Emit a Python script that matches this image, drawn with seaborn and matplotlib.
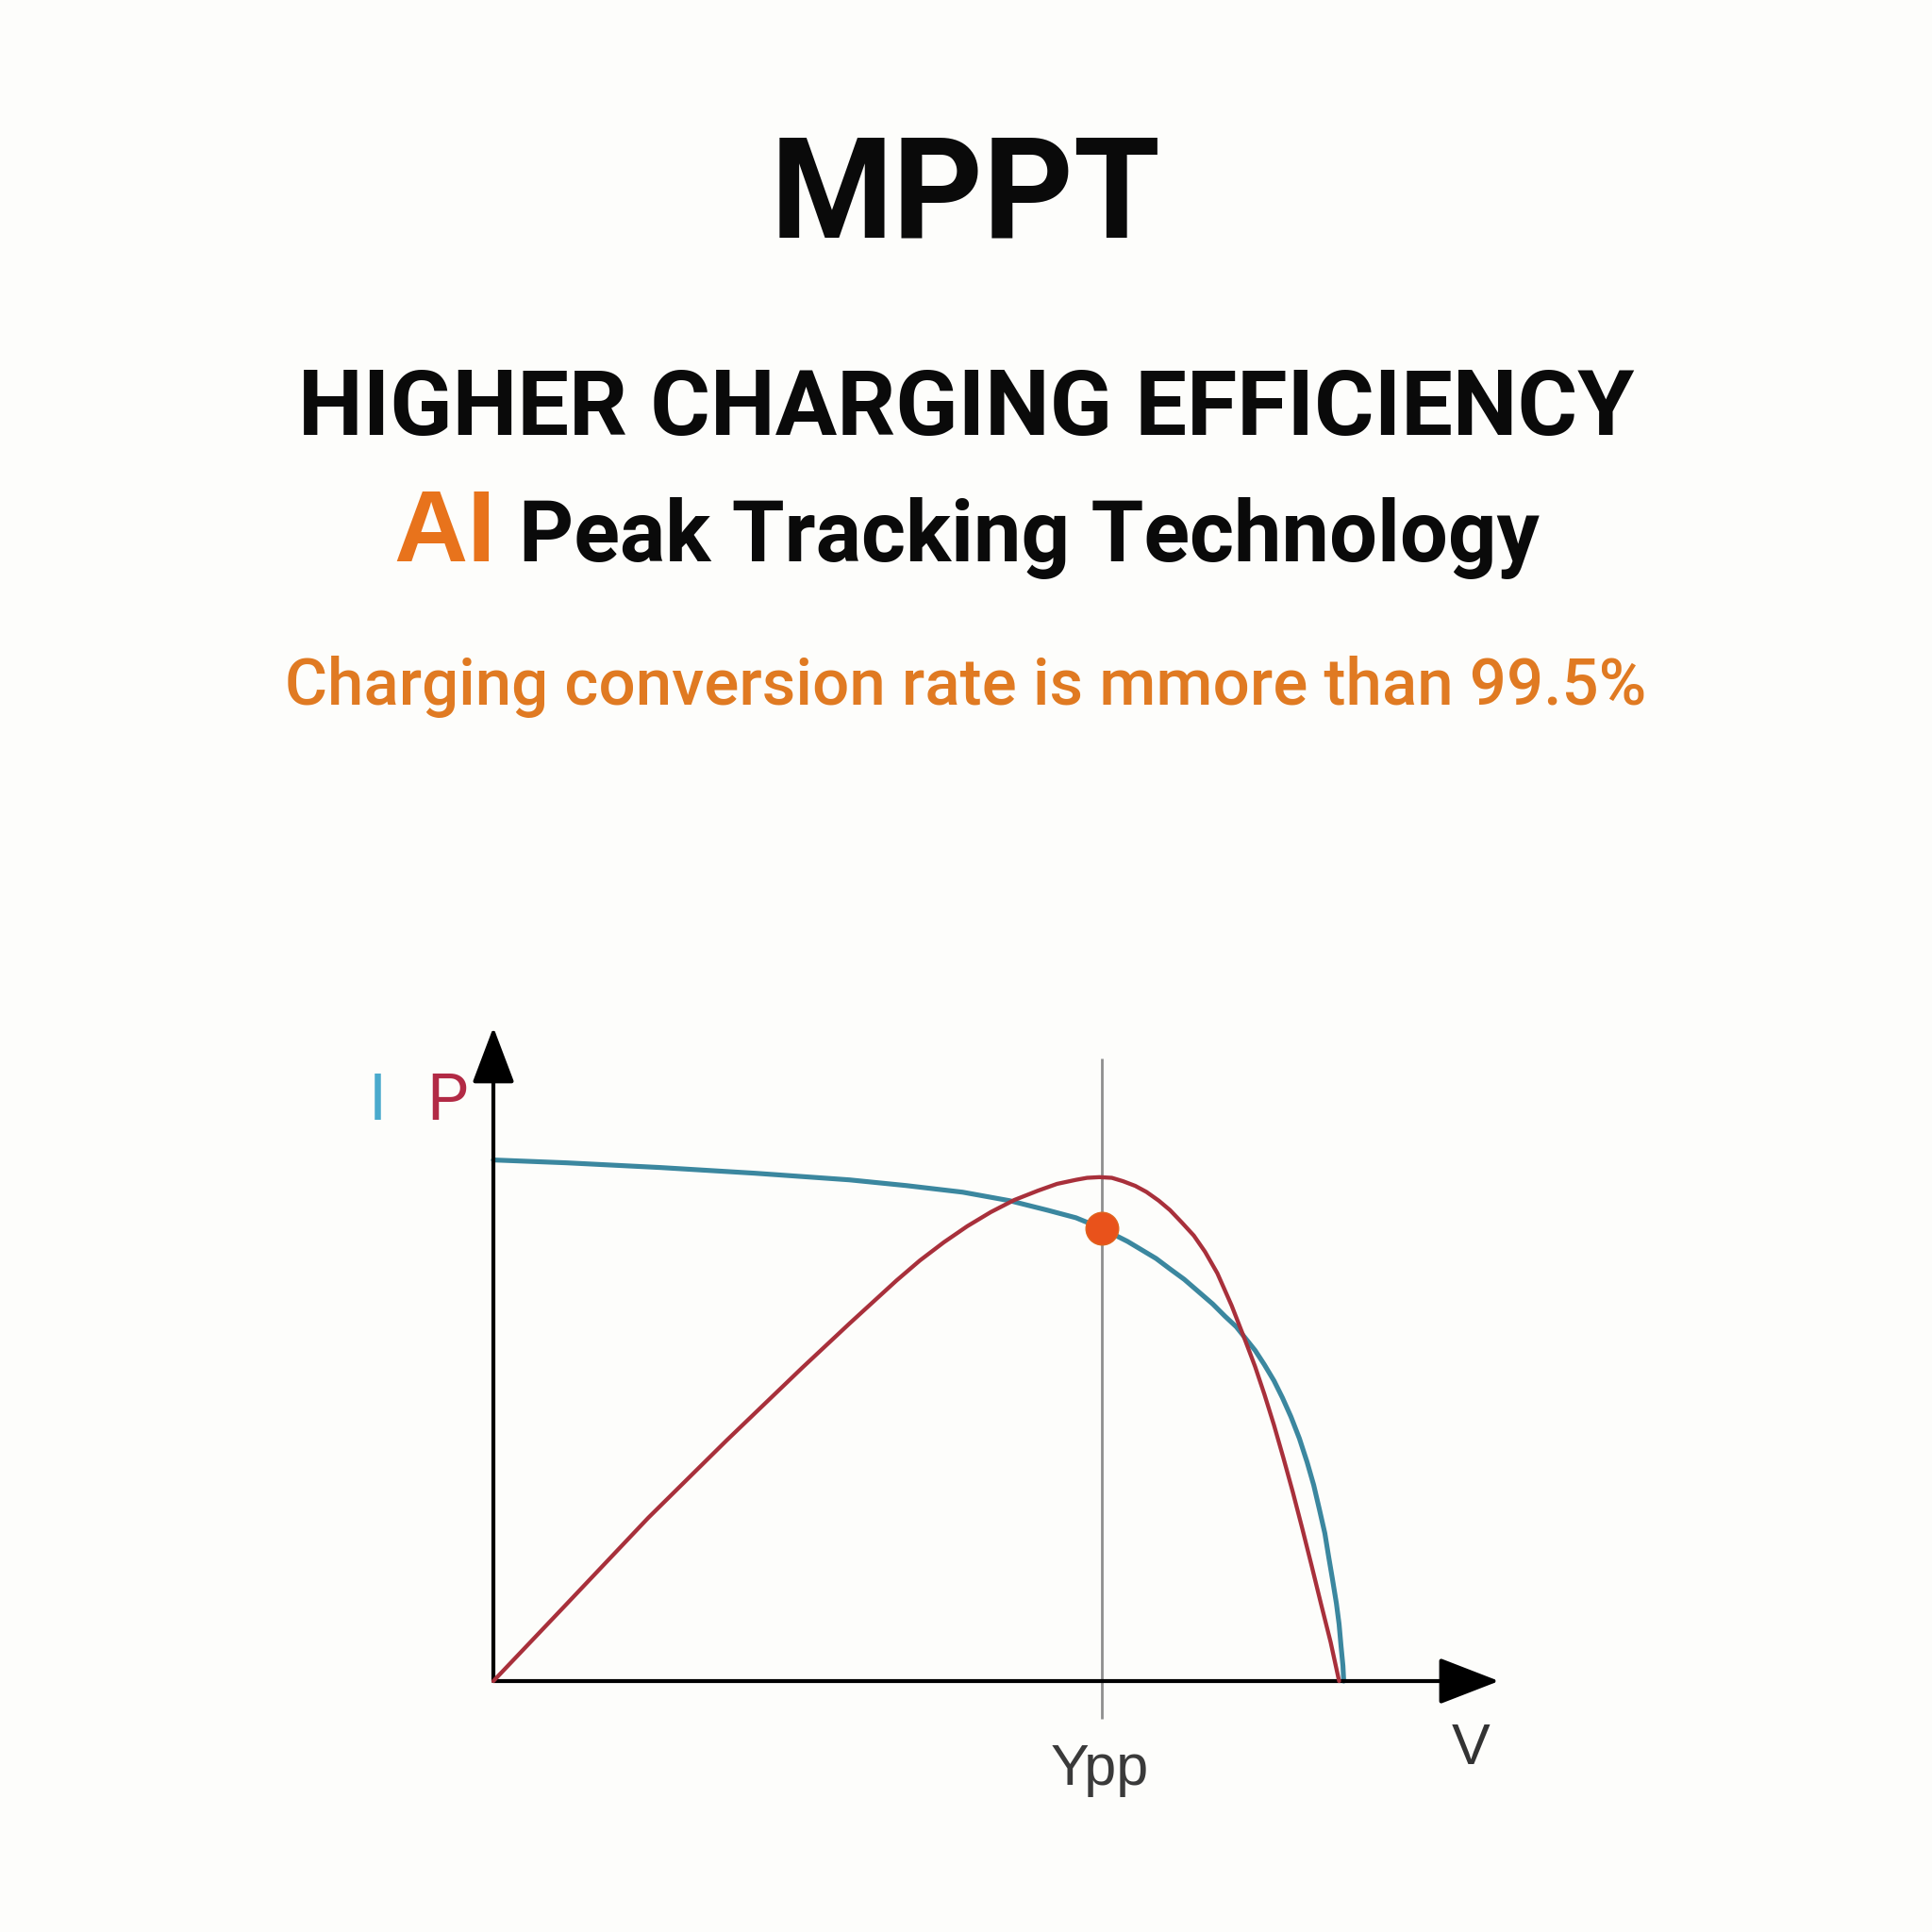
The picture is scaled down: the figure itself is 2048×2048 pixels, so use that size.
import pandas as pd
import matplotlib
matplotlib.use("Agg")
import matplotlib.pyplot as plt
import seaborn as sns
from matplotlib import font_manager

# Values (no ticks, so units are illustrative)
# I-V curve of the panel: voltage (V) and current (A)
iv_voltage = [0.00, 1.89, 4.34, 6.79, 9.24, 10.71, 12.18, 13.40, 13.89, 14.38,
              15.12, 15.78, 16.46, 16.83, 17.20, 17.56, 17.93, 18.30, 18.67,
              18.99, 19.28, 19.77, 20.01, 20.26, 20.48, 20.70, 20.92, 21.12,
              21.29, 21.44, 21.58, 21.68, 21.78, 21.88, 21.95, 22.00, 22.05,
              22.07]
iv_current = [5.50, 5.47, 5.42, 5.36, 5.29, 5.23, 5.16, 5.07, 5.02, 4.97,
              4.89, 4.78, 4.64, 4.55, 4.46, 4.35, 4.24, 4.11, 3.98,
              3.85, 3.74, 3.49, 3.34, 3.17, 2.99, 2.79, 2.56, 2.31,
              2.07, 1.81, 1.56, 1.31, 1.07, 0.82, 0.60, 0.37, 0.16,
              0.00]

# P-V curve of the panel: voltage (V) and power (W)
pv_voltage = [0.00, 1.89, 4.02, 6.05, 8.01, 9.24, 9.85, 10.46, 11.07, 11.69,
              12.30, 12.91, 13.52, 14.14, 14.63, 15.12, 15.41, 15.73, 16.05,
              16.34, 16.66, 16.95, 17.27, 17.56, 17.86, 18.18, 18.47, 18.79,
              19.16, 19.52, 19.77, 20.01, 20.26, 20.50, 20.75, 20.99, 21.24,
              21.48, 21.73, 21.95]
pv_power = [0.0, 11.4, 24.3, 35.8, 46.6, 53.2, 56.4, 59.6, 62.6, 65.3,
            67.7, 69.8, 71.6, 73.0, 74.0, 74.6, 74.9, 75.0, 74.9,
            74.4, 73.7, 72.8, 71.5, 70.1, 68.3, 66.3, 63.9, 60.7,
            55.9, 50.6, 46.8, 42.7, 38.1, 33.3, 28.1, 22.8, 17.1,
            11.5, 5.8, 0.0]

# Maximum power point
mpp_voltage = 15.78
mpp_current = 4.78

# Axis extents (arrow tips) and the marker line at Vmp
v_axis_max = 26.1
i_axis_max = 6.9
p_axis_max = 97.3
mpp_line_bottom = -0.40
mpp_line_top = 6.57

# Texts
title = "MPPT"
headline = "HIGHER CHARGING EFFICIENCY"
ai_word = "AI"
tagline = "Peak Tracking Technology"
subtitle = "Charging conversion rate is mmore than 99.5%"
label_i = "I"
label_p = "P"
label_vmp = "Ypp"
label_v = "V"

BG = "#fdfdfb"
BLUE = "#3b879f"
RED = "#a8303b"
ORANGE = "#e8731c"


def pick_font(candidates, fallback):
    # first installed family from the list
    names = {f.name for f in font_manager.fontManager.ttflist}
    for name in candidates:
        if name in names:
            return name
    return fallback


def draw_headings(fig, head, wide):
    fig.text(0.5, 1 - 252 / 2048, title, ha="center", va="baseline",
             fontsize=107, fontweight="bold", family=head, color="#0a0a0a")
    fig.text(0.5, 1 - 461 / 2048, headline, ha="center", va="baseline",
             fontsize=70, fontweight="bold", family=head, color="#0a0a0a")
    fig.text(526 / 2048, 1 - 595 / 2048, ai_word, ha="right", va="baseline",
             fontsize=78, fontweight="bold", family=wide, color=ORANGE)
    fig.text(550 / 2048, 1 - 595 / 2048, tagline, ha="left", va="baseline",
             fontsize=65, fontweight="bold", family=head, color="#0a0a0a")
    fig.text(0.5, 1 - 747 / 2048, subtitle, ha="center", va="baseline",
             fontsize=49.7, fontweight=500, family=head, color="#e07a22")


def draw_chart(fig, head, wide):
    ax = fig.add_axes([523 / 2048, 1 - 1782 / 2048,
                       (1589 - 523) / 2048, (1782 - 1089) / 2048])
    ax.set_xlim(0, v_axis_max)
    ax.set_ylim(0, i_axis_max)
    ax.set_axis_off()

    ax2 = ax.twinx()
    ax2.set_ylim(0, p_axis_max)
    ax2.set_axis_off()

    # vertical marker at the maximum power voltage
    ax.vlines(mpp_voltage, mpp_line_bottom, mpp_line_top, color="#8e8e8e",
              lw=2.0, clip_on=False, zorder=1)

    iv = pd.DataFrame({"V": iv_voltage, "I": iv_current})
    pv = pd.DataFrame({"V": pv_voltage, "P": pv_power})
    sns.lineplot(data=iv, x="V", y="I", sort=False, estimator=None, color=BLUE,
                 linewidth=3.7, ax=ax, zorder=3)
    sns.lineplot(data=pv, x="V", y="P", sort=False, estimator=None, color=RED,
                 linewidth=3.1, ax=ax2, zorder=3)
    for line in ax.lines + ax2.lines:
        line.set_solid_joinstyle("round")
        line.set_solid_capstyle("round")
        line.set_clip_on(False)

    ax2.scatter([mpp_voltage], [mpp_current * p_axis_max / i_axis_max], s=620,
                color="#e9521b", edgecolor="#e0641e", linewidth=1.0, zorder=5,
                clip_on=False)

    # axis arrows
    ax.annotate("", xy=(v_axis_max, 0), xytext=(0, 0), annotation_clip=False,
                arrowprops=dict(arrowstyle="-|>,head_length=0.40,head_width=0.155",
                                mutation_scale=100, lw=3.0, color="black",
                                shrinkA=0, shrinkB=0))
    ax.annotate("", xy=(0, i_axis_max), xytext=(0, 0), annotation_clip=False,
                arrowprops=dict(arrowstyle="-|>,head_length=0.37,head_width=0.14",
                                mutation_scale=100, lw=3.0, color="black",
                                shrinkA=0, shrinkB=0))

    # axis labels
    fig.text(400 / 2048, 1 - 1187 / 2048, label_i, ha="center", va="baseline",
             fontsize=50, family=head, color="#4aaacd")
    fig.text(474 / 2048, 1 - 1187 / 2048, label_p, ha="center", va="baseline",
             fontsize=50, family=head, color="#b22a45")
    fig.text(1166 / 2048, 1 - 1892 / 2048, label_vmp, ha="center", va="baseline",
             fontsize=44, family=wide, color="#3a3a3a")
    fig.text(1559 / 2048, 1 - 1870 / 2048, label_v, ha="center", va="baseline",
             fontsize=44, family=wide, color="#333333")
    return ax


def main():
    sns.set_theme(style="white")
    head = pick_font(["Roboto", "Lato"], "DejaVu Sans")
    wide = pick_font(["Liberation Sans"], "DejaVu Sans")
    plt.rcParams["font.family"] = [wide, "DejaVu Sans"]

    fig = plt.figure(figsize=(20.48, 20.48), dpi=100, facecolor=BG)
    draw_headings(fig, head, wide)
    draw_chart(fig, head, wide)
    fig.savefig("out.png", dpi=100, facecolor=BG)
    plt.close(fig)


if __name__ == "__main__":
    main()
